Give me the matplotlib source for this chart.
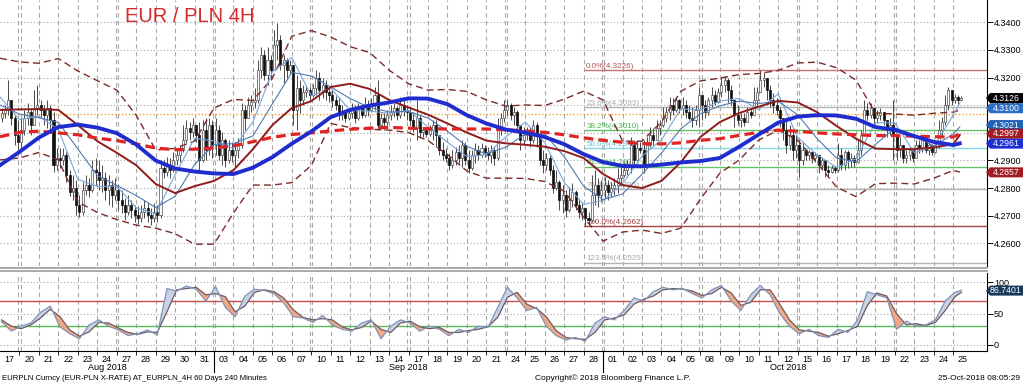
import numpy as np
import pandas as pd
import matplotlib
matplotlib.use("Agg")
import matplotlib.pyplot as plt
import matplotlib.transforms as mtransforms
from matplotlib.patches import Polygon
from matplotlib.lines import Line2D

plt.rcParams['font.family'] = ['Liberation Sans', 'DejaVu Sans']

# trading days shown (4h bars, 6 per day, last day partial)
DAYS = pd.bdate_range('2018-08-17', '2018-10-25')

# prices in 1/10000 (pips)
OPEN0 = 43054
CLOSE = [
    43072, 43083, 43119, 43054, 42992, 42967,
    43010, 43054, 43076, 43028, 43090, 43101,
    43083, 43065, 43090, 43047, 42884, 42909,
    42902, 42920, 42848, 42786, 42800, 42739,
    42714, 42793, 42811, 42793, 42866, 42858,
    42829, 42837, 42793, 42811, 42775, 42793,
    42757, 42739, 42714, 42739, 42721, 42703,
    42692, 42714, 42728, 42703, 42692, 42714,
    42703, 42873, 42858, 42884, 42866, 42902,
    42920, 42938, 42974, 43018, 43003, 43028,
    42992, 42902, 43010, 42938, 43028, 42956,
    43010, 42920, 42974, 42902, 42938, 42920,
    42938, 42956, 43083, 43054, 43101, 43112,
    43119, 43228, 43282, 43210, 43264, 43228,
    43318, 43336, 43246, 43264, 43228, 43246,
    43083, 43162, 43119, 43148, 43155, 43137,
    43162, 43199, 43155, 43173, 43148, 43137,
    43119, 43101, 43065, 43076, 43054, 43072,
    43083, 43054, 43090, 43065, 43101, 43083,
    43101, 43137, 43028, 43054, 43039, 43065,
    43076, 43090, 43065, 43101, 43083, 43076,
    43047, 43018, 43054, 43003, 43010, 42996,
    43010, 43028, 42992, 42938, 42920, 42909,
    42884, 42902, 42931, 42909, 42956, 42902,
    42873, 42920, 42938, 42920, 42945, 42931,
    42920, 42938, 42909, 43010, 43054, 43083,
    43101, 43065, 43076, 43028, 42974, 42992,
    43010, 42974, 43028, 42992, 42902, 42884,
    42909, 42866, 42800, 42822, 42757, 42775,
    42721, 42757, 42786, 42739, 42714, 42728,
    42692, 42685, 42775, 42811, 42775, 42793,
    42811, 42786, 42800, 42811, 42837, 42848,
    42866, 42884, 42956, 42902, 42945, 42938,
    42884, 42956, 42992, 42974, 43018, 43028,
    43054, 43076, 43101, 43083, 43119, 43090,
    43101, 43076, 43054, 43047, 43083, 43137,
    43101, 43076, 43119, 43137, 43112, 43148,
    43173, 43191, 43155, 43119, 43065, 43047,
    43054, 43039, 43076, 43065, 43119, 43148,
    43191, 43199, 43155, 43119, 43101, 43083,
    43054, 43010, 42956, 42992, 42938, 42956,
    42902, 42938, 42920, 42931, 42909, 42920,
    42884, 42902, 42866, 42858, 42873, 42866,
    42920, 42884, 42931, 42902, 42909, 42895,
    42938, 42992, 43083, 43065, 43090, 43054,
    43065, 43076, 43047, 43010, 43028, 42992,
    42938, 42956, 42909, 42920, 42938, 42909,
    42956, 42945, 42974, 42938, 42956, 42931,
    42956, 43010, 43039, 43101, 43155, 43119,
    43130, 43119, 43126,
]
HIGH = [
    43090, 43101, 43191, 43119, 43065, 43047,
    43054, 43083, 43108, 43090, 43155, 43173,
    43119, 43101, 43119, 43101, 43076, 42945,
    42945, 42945, 42931, 42866, 42848, 42829,
    42775, 42822, 42848, 42837, 42902, 42909,
    42902, 42884, 42858, 42848, 42829, 42837,
    42811, 42793, 42764, 42775, 42757, 42739,
    42735, 42739, 42757, 42746, 42728, 42746,
    42739, 42902, 42902, 42913, 42909, 42931,
    42938, 42956, 43028, 43047, 43039, 43054,
    43028, 43039, 43047, 43054, 43054, 43047,
    43054, 43028, 43003, 42981, 42974, 42967,
    42967, 42981, 43108, 43101, 43130, 43137,
    43162, 43264, 43311, 43300, 43311, 43282,
    43372, 43398, 43354, 43282, 43271, 43264,
    43246, 43210, 43191, 43173, 43173, 43166,
    43177, 43228, 43220, 43199, 43191, 43162,
    43155, 43133, 43130, 43101, 43083, 43090,
    43108, 43101, 43108, 43104, 43130, 43119,
    43126, 43166, 43191, 43072, 43072, 43083,
    43101, 43108, 43097, 43130, 43119, 43101,
    43094, 43076, 43119, 43065, 43021, 43018,
    43028, 43047, 43047, 42981, 42967, 42945,
    42927, 42938, 42949, 42956, 42974, 42967,
    42938, 42938, 42963, 42956, 42963, 42956,
    42949, 42956, 42949, 43054, 43072, 43119,
    43119, 43108, 43094, 43083, 43028, 43021,
    43021, 43021, 43047, 43039, 43000, 42938,
    42927, 42920, 42884, 42866, 42829, 42811,
    42793, 42804, 42819, 42793, 42757, 42750,
    42721, 42714, 42848, 42866, 42837, 42829,
    42840, 42829, 42822, 42837, 42873, 42876,
    42895, 42902, 42985, 42974, 42974, 42967,
    42974, 42985, 43021, 43018, 43047, 43047,
    43094, 43094, 43130, 43126, 43130, 43123,
    43130, 43119, 43101, 43094, 43101, 43166,
    43130, 43119, 43130, 43166, 43155, 43162,
    43202, 43206, 43199, 43173, 43108, 43101,
    43072, 43072, 43094, 43090, 43166, 43166,
    43226, 43220, 43181, 43173, 43144, 43126,
    43094, 43047, 43057, 43028, 43010, 42992,
    42974, 42967, 42938, 42938, 42927, 42931,
    42913, 42913, 42902, 42884, 42884, 42880,
    42963, 42945, 42938, 42938, 42927, 42920,
    42974, 43010, 43119, 43108, 43108, 43083,
    43083, 43090, 43076, 43047, 43054, 43119,
    42985, 42985, 42956, 42938, 42949, 42945,
    42974, 42974, 42985, 42981, 42963, 42960,
    42974, 43047, 43057, 43137, 43166, 43148,
    43141, 43137, 43133,
]
LOW = [
    43039, 43054, 43065, 43028, 42956, 42938,
    42938, 42992, 43028, 42992, 43028, 43065,
    43054, 43028, 43018, 43010, 42858, 42866,
    42873, 42884, 42822, 42772, 42757, 42703,
    42696, 42703, 42775, 42768, 42786, 42811,
    42793, 42786, 42757, 42739, 42732, 42757,
    42721, 42710, 42685, 42703, 42692, 42677,
    42670, 42677, 42692, 42677, 42667, 42677,
    42677, 42692, 42837, 42844, 42837, 42858,
    42884, 42895, 42931, 42963, 42974, 42985,
    42967, 42866, 42895, 42902, 42920, 42909,
    42920, 42902, 42884, 42876, 42891, 42895,
    42876, 42909, 42945, 43010, 43065, 43076,
    43090, 43108, 43199, 43191, 43173, 43191,
    43228, 43264, 43228, 43181, 43199, 43217,
    43028, 43010, 43072, 43101, 43130, 43119,
    43130, 43137, 43119, 43126, 43119, 43112,
    43094, 43083, 43047, 43047, 43039, 43047,
    43054, 43036, 43047, 43054, 43057, 43061,
    43076, 43083, 43010, 43018, 43010, 43028,
    43047, 43057, 43047, 43054, 43061, 43047,
    43028, 43003, 42974, 42981, 42985, 42985,
    42989, 42974, 42949, 42920, 42902, 42895,
    42866, 42873, 42884, 42891, 42876, 42884,
    42855, 42866, 42891, 42902, 42913, 42913,
    42902, 42891, 42884, 42902, 42992, 43039,
    43065, 43047, 43028, 43010, 42938, 42956,
    42974, 42949, 42963, 42949, 42884, 42855,
    42866, 42848, 42782, 42793, 42721, 42710,
    42696, 42714, 42732, 42721, 42692, 42685,
    42662, 42667, 42677, 42739, 42732, 42750,
    42764, 42757, 42768, 42775, 42782, 42811,
    42840, 42848, 42855, 42884, 42920, 42927,
    42855, 42873, 42949, 42956, 42985, 42992,
    43021, 43039, 43047, 43065, 43076, 43072,
    43065, 43054, 43047, 43021, 43028, 43021,
    43047, 43054, 43065, 43094, 43101, 43108,
    43130, 43148, 43108, 43101, 43021, 43028,
    43021, 43025, 43047, 43054, 43094, 43101,
    43155, 43166, 43119, 43094, 43072, 43065,
    43021, 42974, 42927, 42938, 42902, 42909,
    42840, 42884, 42902, 42902, 42891, 42895,
    42855, 42866, 42840, 42844, 42855, 42855,
    42858, 42866, 42866, 42873, 42876, 42876,
    42891, 42920, 42992, 43047, 43054, 43028,
    43036, 43047, 43028, 42985, 42992, 42902,
    42902, 42913, 42891, 42891, 42902, 42895,
    42920, 42927, 42931, 42927, 42920, 42920,
    42927, 42945, 42992, 43028, 43083, 43101,
    43108, 43104, 43115,
]

# indicator lines, one value per day boundary + last bar
MA_FAST = [
    4.3130, 4.3048, 4.3060, 4.3013, 4.2832, 4.2806, 4.2807, 4.2729, 4.2707, 4.2848,
    4.2980, 4.2971, 4.2944, 4.3040, 4.3221, 4.3273, 4.3134, 4.3162, 4.3081, 4.3079,
    4.3071, 4.3082, 4.3021, 4.2966, 4.2914, 4.2921, 4.2986, 4.3039, 4.2965, 4.2821,
    4.2741, 4.2755, 4.2816, 4.2915, 4.2975, 4.3087, 4.3083, 4.3115, 4.3125, 4.3084,
    4.3141, 4.2984, 4.2920, 4.2875, 4.2906, 4.3037, 4.3036, 4.2928, 4.2950, 4.3064,
    4.3108]
MA_MID = [
    4.3101, 4.3068, 4.3055, 4.3038, 4.2942, 4.2846, 4.2810, 4.2773, 4.2730, 4.2770,
    4.2885, 4.2958, 4.2961, 4.2989, 4.3105, 4.3219, 4.3206, 4.3166, 4.3124, 4.3092,
    4.3076, 4.3077, 4.3054, 4.3006, 4.2951, 4.2924, 4.2948, 4.2996, 4.2996, 4.2914,
    4.2807, 4.2758, 4.2779, 4.2850, 4.2927, 4.3015, 4.3069, 4.3098, 4.3115, 4.3106,
    4.3114, 4.3066, 4.2979, 4.2909, 4.2895, 4.2958, 4.3018, 4.2990, 4.2952, 4.2996,
    4.3021]
MA_DARKRED = [
    4.3083, 4.3085, 4.3086, 4.3083, 4.3028, 4.2970, 4.2928, 4.2883, 4.2815, 4.2782,
    4.2807, 4.2826, 4.2865, 4.2941, 4.3028, 4.3090, 4.3115, 4.3166, 4.3178, 4.3159,
    4.3119, 4.3092, 4.3066, 4.3034, 4.3001, 4.2972, 4.2962, 4.2957, 4.2950, 4.2934,
    4.2909, 4.2851, 4.2811, 4.2800, 4.2826, 4.2894, 4.2985, 4.3039, 4.3072, 4.3095,
    4.3116, 4.3110, 4.3075, 4.3025, 4.2979, 4.2943, 4.2941, 4.2941, 4.2947, 4.2959,
    4.2992]
MA_BLUE = [
    4.2883, 4.2931, 4.2983, 4.3021, 4.3030, 4.3019, 4.2999, 4.2958, 4.2900, 4.2871,
    4.2860, 4.2853, 4.2851, 4.2874, 4.2912, 4.2961, 4.3005, 4.3057, 4.3083, 4.3099,
    4.3110, 4.3125, 4.3124, 4.3104, 4.3064, 4.3034, 4.3012, 4.3001, 4.2985, 4.2959,
    4.2923, 4.2894, 4.2880, 4.2879, 4.2885, 4.2893, 4.2898, 4.2909, 4.2950, 4.2994,
    4.3037, 4.3059, 4.3064, 4.3063, 4.3051, 4.3021, 4.3011, 4.2988, 4.2967, 4.2956,
    4.2962]
MA_RED = [
    4.2986, 4.3002, 4.3006, 4.3000, 4.2993, 4.2981, 4.2972, 4.2960, 4.2945, 4.2939,
    4.2941, 4.2945, 4.2953, 4.2968, 4.2984, 4.2994, 4.3000, 4.3007, 4.3013, 4.3017,
    4.3020, 4.3017, 4.3015, 4.3014, 4.3014, 4.3014, 4.3011, 4.3007, 4.3002, 4.2993,
    4.2982, 4.2973, 4.2966, 4.2961, 4.2960, 4.2964, 4.2973, 4.2979, 4.2991, 4.3002,
    4.3010, 4.3006, 4.3000, 4.2996, 4.2993, 4.2990, 4.2990, 4.2988, 4.2986, 4.2985,
    4.2997]
BB_UP = [
    4.3270, 4.3257, 4.3252, 4.3269, 4.3224, 4.3189, 4.3155, 4.3064, 4.2938, 4.2944,
    4.2970, 4.3090, 4.3121, 4.3117, 4.3198, 4.3350, 4.3370, 4.3347, 4.3312, 4.3291,
    4.3227, 4.3178, 4.3155, 4.3157, 4.3150, 4.3119, 4.3097, 4.3101, 4.3099, 4.3122,
    4.3151, 4.3119, 4.2970, 4.2970, 4.3040, 4.3151, 4.3188, 4.3198, 4.3211, 4.3215,
    4.3226, 4.3253, 4.3256, 4.3236, 4.3191, 4.3072, 4.3068, 4.3064, 4.3071, 4.3075,
    4.3083]
BB_LOW = [
    4.2902, 4.2909, 4.2929, 4.2902, 4.2750, 4.2712, 4.2686, 4.2666, 4.2655, 4.2635,
    4.2597, 4.2597, 4.2710, 4.2811, 4.2811, 4.2820, 4.2882, 4.3034, 4.3019, 4.3013,
    4.3010, 4.3001, 4.2972, 4.2921, 4.2862, 4.2836, 4.2836, 4.2835, 4.2824, 4.2789,
    4.2695, 4.2608, 4.2641, 4.2648, 4.2636, 4.2655, 4.2760, 4.2854, 4.2902, 4.2974,
    4.3010, 4.2974, 4.2891, 4.2804, 4.2769, 4.2816, 4.2818, 4.2815, 4.2836, 4.2864,
    4.2858]

# fibonacci retracement (Sep 28 low -> Oct 11 high)
FIB_PCT = ['0.0', '23.6', '38.2', '50.0', '61.8', '76.4', '100.0', '123.6']
FIB_LEVELS = [4.3226, 4.3093, 4.3010, 4.2944, 4.2877, 4.2795, 4.2662, 4.2529]
FIB_COLORS = ['#c87474', '#b4b4b4', '#66c266', '#86d4e4', '#66c266', '#b4b4b4', '#a84444', '#b4b4b4']
FIB_TEXT = ['#b05454', '#a8a8a8', '#4eb24e', '#5ec4d6', '#4eb24e', '#a8a8a8', '#a04040', '#a8a8a8']
ORANGE_LEVEL = 4.3068

# oscillator, one value every 3 bars
OSC_K = [37, 22, 30, 35, 52, 62, 29, 18, 10, 32, 40, 30, 24, 15, 18, 24, 16, 90, 86, 94,
         89, 70, 93, 60, 45, 78, 89, 87, 82, 67, 45, 43, 36, 47, 32, 25, 22, 35, 40, 10,
         30, 40, 35, 22, 30, 25, 15, 25, 20, 30, 28, 60, 92, 75, 55, 60, 30, 15, 8, 12,
         6, 35, 45, 40, 55, 75, 70, 85, 92, 88, 90, 82, 75, 88, 95, 70, 55, 80, 95, 80,
         50, 30, 18, 25, 15, 12, 25, 20, 40, 85, 80, 75, 25, 38, 30, 32, 40, 70, 84, 87]
OSC_D = [40, 30, 26, 32, 43, 57, 45, 24, 14, 21, 36, 35, 27, 20, 17, 21, 20, 53, 88, 90,
         92, 80, 82, 77, 53, 62, 84, 88, 85, 75, 56, 44, 40, 42, 40, 29, 24, 28, 38, 25,
         20, 35, 38, 29, 26, 28, 20, 20, 23, 25, 29, 44, 76, 84, 65, 58, 45, 23, 12, 10,
         9, 20, 40, 43, 48, 65, 73, 78, 88, 90, 89, 86, 79, 82, 92, 83, 63, 68, 88, 88,
         65, 40, 24, 22, 20, 14, 18, 23, 30, 63, 83, 78, 50, 32, 34, 31, 36, 55, 77, 84]

# last values shown on the right axis
PRICE_TAGS = [(4.3100, '#2b6cc4'), (4.3126, '#000000'), (4.3021, '#1f60b8'),
              (4.2997, '#a31c24'), (4.2961, '#1b2fd4'), (4.2857, '#a31c24')]
OSC_TAG = (86.7401, '#17385a')

W, H = 1023, 384
fig = plt.figure(figsize=(W / 100, H / 100), dpi=100)
ax = fig.add_axes([0, 1 - 266 / H, 987 / W, 266 / H])
ax2 = fig.add_axes([0, 1 - 351 / H, 987 / W, 78 / H])

XMAX = 304.4
c = np.array(CLOSE) / 1e4
o = np.r_[OPEN0 / 1e4, c[:-1]]
hi = np.maximum(np.array(HIGH) / 1e4, np.maximum(o, c))
lo = np.minimum(np.array(LOW) / 1e4, np.minimum(o, c))
n = len(c)
x = np.arange(n) + 0.5
lx = np.r_[np.arange(len(DAYS)) * 6, n - 1.0]

for a in (ax, ax2):
    a.set_xlim(0, XMAX)
    for s in ('top', 'left'):
        a.spines[s].set_visible(False)
    a.spines['right'].set_linewidth(0.8)
    a.yaxis.tick_right()
    a.tick_params(axis='y', direction='out', length=4, width=0.7, labelsize=6.5, pad=1)
    a.set_facecolor('white')
    # day grid, doubled at week starts
    for i, d in enumerate(DAYS):
        if i == 0:
            continue
        if d.weekday() == 0:
            for dx in (-0.35, 0.35):
                a.axvline(6 * i + dx, color='#a8a8a8', lw=0.8, ls=(0, (4, 3)), zorder=0.5)
        else:
            a.axvline(6 * i, color='#a8a8a8', lw=0.8, ls=(0, (4, 3)), zorder=0.5)

ax.spines['bottom'].set_visible(False)
ax.set_ylim(4.2518, 4.3481)
pt = np.round(np.arange(4.26, 4.3401, 0.01), 2)
ax.set_yticks(pt)
ax.set_yticklabels([f"{v:.4f}" for v in pt])
ax.set_xticks([])
for v in pt:
    ax.axhline(v, color='#a8a8a8', lw=0.8, ls=(0, (1, 2)), zorder=0.5)

# fib levels
for p, lev, col, tcol in zip(FIB_PCT, FIB_LEVELS, FIB_COLORS, FIB_TEXT):
    ax.hlines(lev, 180, XMAX, color=col, lw=1, zorder=1)
    ax.text(180.8, lev + 0.0002, f"{p}%({lev:.4f})", color=tcol, fontsize=5.8,
            va='bottom', ha='left', zorder=1)
ax.axhline(ORANGE_LEVEL, color='#f0a030', lw=1, ls=(0, (1, 1.5)), zorder=1)

# bars
up = c >= o
ax.vlines(x, lo, hi, color='#4a4a4a', lw=0.7, zorder=2)
ax.bar(x[up], (c - o)[up], bottom=o[up], width=0.62, color='white',
       edgecolor='#505050', lw=0.5, zorder=2.1)
ax.bar(x[~up], (o - c)[~up], bottom=c[~up], width=0.62, color='#101010',
       edgecolor='#101010', lw=0.5, zorder=2.1)

# indicators
ax.plot(lx, BB_UP, color='#7b2a2a', lw=1, ls=(0, (5, 3)), zorder=3)
ax.plot(lx, BB_LOW, color='#7b2a2a', lw=1, ls=(0, (5, 3)), zorder=3)
ax.plot(lx, MA_FAST, color='#7aa6dc', lw=0.8, zorder=3)
ax.plot(lx, MA_MID, color='#4f7ab4', lw=0.8, zorder=3)
ax.plot(lx, MA_DARKRED, color='#8e1c1c', lw=1.4, zorder=3.1)
ax.plot(lx, MA_RED, color='#e02424', lw=2.3, ls=(0, (3, 1.6)), zorder=3.2)
ax.plot(lx, MA_BLUE, color='#1f2dcf', lw=2.8, zorder=3.3)

fig.text(190 / W, 1 - 16 / H, "EUR / PLN 4H", color='#d42a2a', fontsize=14.5,
         ha='center', va='center')

# oscillator panel
ox = np.r_[np.arange(len(OSC_K) - 1) * 3 + 0.5, n - 0.5]
k = np.array(OSC_K, float)
dd = np.array(OSC_D, float)
ax2.set_ylim(-9.6, 114.8)
ax2.set_yticks([0, 50, 100])
for v in (0, 50, 100):
    ax2.axhline(v, color='#a8a8a8', lw=0.8, ls=(0, (1, 2)), zorder=0.5)
ax2.axhline(70, color='#c0504d', lw=1, zorder=1)
ax2.axhline(30, color='#5cb85c', lw=1, zorder=1)
ax2.fill_between(ox, k, dd, where=k >= dd, interpolate=True, color='#c9d2e2', lw=0, zorder=1.5)
ax2.fill_between(ox, k, dd, where=k < dd, interpolate=True, color='#f3a884', lw=0, zorder=1.5)
ax2.plot(ox, dd, color='#6e5a62', lw=0.9, zorder=2)
ax2.plot(ox, k, color='#7f93b8', lw=0.9, zorder=2.1)

ax2.spines['bottom'].set_linewidth(0.8)
centers = np.arange(len(DAYS)) * 6 + 3
ax2.set_xticks(centers)
ax2.set_xticklabels([f"{d.day:02d}" for d in DAYS])
ax2.set_xticks(np.arange(1, len(DAYS)) * 6, minor=True)
ax2.tick_params(axis='x', which='major', length=0, labelsize=6.5, pad=3)
ax2.tick_params(axis='x', which='minor', length=3, width=0.6, direction='out')

bt = mtransforms.blended_transform_factory(ax2.transData, fig.transFigure)
months = pd.Series(np.arange(len(DAYS)), index=DAYS).groupby(DAYS.month)
for m, idx in months:
    i0, i1 = idx.iloc[0], idx.iloc[-1]
    ax2.text((6 * i0 + 6 * (i1 + 1)) / 2, 1 - 368 / H, DAYS[i0].strftime('%b %Y'),
             transform=bt, ha='center', va='center', fontsize=6.5)
    if i0 > 0:
        fig.add_artist(Line2D([6 * i0, 6 * i0], [1 - 351 / H, 1 - 372 / H],
                              transform=bt, color='black', lw=0.8))

# panel separator
for yy in (267.5, 271):
    fig.add_artist(Line2D([0, 987 / W], [1 - yy / H] * 2, transform=fig.transFigure,
                          color='#9c9c9c', lw=1.2))

# value tags on the right axis (covered ones nudged a little so their text stays readable)
def tag(axis, val, col, text, shift=0):
    yd = axis.transData.transform((0, val))[1] / fig.dpi * 100 + shift
    h = 10
    xs = [986, 990, 1023, 1023, 990]
    ys = [yd, yd + h / 2, yd + h / 2, yd - h / 2, yd - h / 2]
    fig.add_artist(Polygon(np.c_[np.array(xs) / W, np.array(ys) / H], closed=True,
                           transform=fig.transFigure, facecolor=col, edgecolor='none'))
    fig.text(1006 / W, yd / H, text, color='white', fontsize=6.3, ha='center', va='center')

shifts = [-3, 0, 2, 0, 0, 0]
for (val, col), sh in zip(PRICE_TAGS, shifts):
    tag(ax, val, col, f"{val:.4f}", sh)
tag(ax2, OSC_TAG[0], OSC_TAG[1], f"{OSC_TAG[0]:.4f}")

fig.text(2 / W, 1 - 378 / H, "EURPLN Curncy (EUR-PLN X-RATE) AT_EURPLN_4H 60 Days 240 Minutes",
         fontsize=5.6, va='center', ha='left')
fig.text(535 / W, 1 - 378 / H, "Copyright\u00a9 2018 Bloomberg Finance L.P.",
         fontsize=6, va='center', ha='left')
fig.text(1020 / W, 1 - 378 / H, "25-Oct-2018 08:05:29", fontsize=6, va='center', ha='right')

fig.savefig("out.png", dpi=100)
